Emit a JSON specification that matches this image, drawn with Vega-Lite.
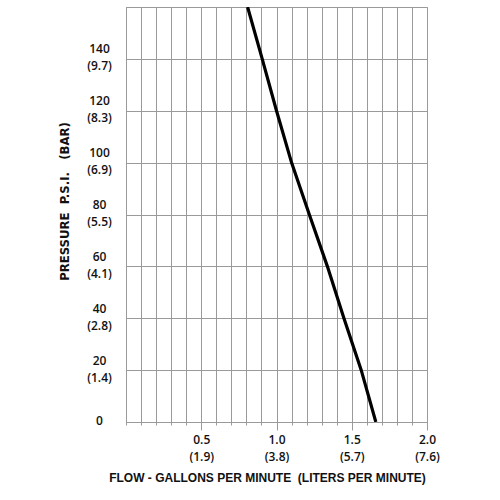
{
  "$schema": "https://vega.github.io/schema/vega-lite/v6.json",
  "autosize": "none",
  "width": 301,
  "height": 415,
  "padding": {"left": 126, "top": 7, "right": 73, "bottom": 78},
  "background": "white",
  "config": {
    "view": {"stroke": "#9a9a9a", "strokeWidth": 1},
    "axis": {"labelFont": "Open Sans", "titleFont": "Liberation Sans", "labelColor": "#111", "titleColor": "#111", "domain": false, "gridColor": "#9a9a9a", "gridWidth": 1, "gridOpacity": 1}
  },
  "data": {"values": [
    {"gpm": 0.808, "psi": 160},
    {"gpm": 0.905, "psi": 140},
    {"gpm": 1.0, "psi": 120},
    {"gpm": 1.10, "psi": 100},
    {"gpm": 1.218, "psi": 80},
    {"gpm": 1.338, "psi": 60},
    {"gpm": 1.448, "psi": 40},
    {"gpm": 1.563, "psi": 20},
    {"gpm": 1.66, "psi": 0}
  ]},
  "mark": {"type": "line", "color": "#000", "strokeWidth": 3.2, "clip": true},
  "encoding": {
    "x": {
      "field": "gpm", "type": "quantitative",
      "scale": {"domain": [0, 2], "nice": false, "zero": false},
      "axis": {
        "values": [0, 0.1, 0.2, 0.3, 0.4, 0.5, 0.6, 0.7, 0.8, 0.9, 1, 1.1, 1.2, 1.3, 1.4, 1.5, 1.6, 1.7, 1.8, 1.9, 2],
        "grid": true,
        "ticks": true,
        "tickColor": "#9a9a9a",
        "tickSize": {"condition": {"test": "indexof([0.5,1,1.5,2], datum.value) >= 0", "value": 8}, "value": 3},
        "labelExpr": "datum.value == 0.5 ? ['0.5','(1.9)'] : datum.value == 1 ? ['1.0','(3.8)'] : datum.value == 1.5 ? ['1.5','(5.7)'] : datum.value == 2 ? ['2.0','(7.6)'] : ''",
        "labelOverlap": false,
        "labelFlush": false,
        "labelFontSize": 12,
        "labelFontWeight": 600,
        "labelLineHeight": 17,
        "labelPadding": 4,
        "title": "FLOW - GALLONS PER MINUTE\u00a0\u00a0(LITERS PER MINUTE)",
        "titleFontSize": 12,
        "titleFontWeight": "bold",
        "titlePadding": 10,
        "titleX": 141
      }
    },
    "y": {
      "field": "psi", "type": "quantitative",
      "scale": {"domain": [0, 160], "nice": false},
      "axis": {
        "values": [0, 20, 40, 60, 80, 100, 120, 140, 160],
        "grid": true,
        "ticks": false,
        "labelExpr": "datum.value == 140 ? ['140','(9.7)'] : datum.value == 120 ? ['120','(8.3)'] : datum.value == 100 ? ['100','(6.9)'] : datum.value == 80 ? ['80','(5.5)'] : datum.value == 60 ? ['60','(4.1)'] : datum.value == 40 ? ['40','(2.8)'] : datum.value == 20 ? ['20','(1.4)'] : datum.value == 0 ? '0' : ''",
        "labelAlign": "center",
        "labelBaseline": "middle",
        "labelOffset": {"condition": {"test": "datum.value == 0", "value": -2}, "value": -10},
        "labelPadding": 27,
        "labelOverlap": false,
        "labelFlush": false,
        "labelFontSize": 12,
        "labelFontWeight": 600,
        "labelLineHeight": 17,
        "title": "PRESSURE\u00a0\u00a0P.S.I.\u00a0\u00a0\u00a0(BAR)",
        "titleFont": "'DejaVu Sans Condensed', 'Liberation Sans'",
        "titleFontSize": 13,
        "titleFontWeight": "bold",
        "titlePadding": 15,
        "titleY": 194
      }
    }
  }
}
